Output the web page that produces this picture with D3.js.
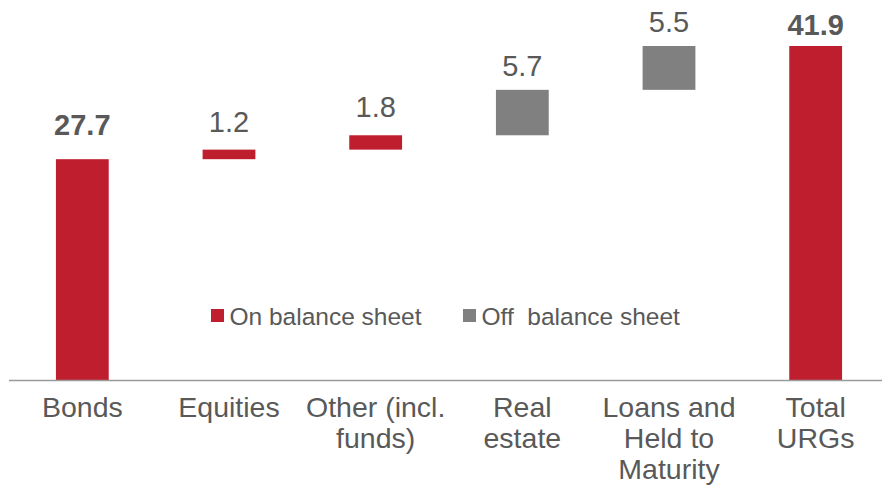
<!DOCTYPE html>
<html>
<head>
<meta charset="utf-8">
<script src="https://cdn.jsdelivr.net/npm/d3@7"></script>
<style>
	html, body { margin: 0; padding: 0; background: #fff; }
	svg { display: block; font-family: Arial, "Liberation Sans", sans-serif; }
</style>
</head>
<body>
<svg id="chart" width="882" height="489"></svg>
<script>
// Data
const categories = [["Bonds"], ["Equities"], ["Other (incl.", "funds)"], ["Real", "estate"], ["Loans and", "Held to", "Maturity"], ["Total", "URGs"]];
const values = [27.7, 1.2, 1.8, 5.7, 5.5, 41.9];
const kinds = ["total", "on", "on", "off", "off", "total"];
const legendLabels = ["On balance sheet", "Off  balance sheet"];

// Label gap above each bar (hand placed in the original)
const labelGaps = [24, 18, 18.5, 13.5, 14.5, 11];

const red = "#BE1E2D";
const grey = "#808080";
const textColor = "#595959";

const svg = d3.select("#chart");
const width = 882;
const baseline = 380;

let x = d3.scaleBand()
	.domain(d3.range(values.length))
	.range([9, 889])
	.paddingInner(0.64)
	.paddingOuter(0.32);

let y = d3.scaleLinear()
	.domain([0, 41.9])
	.range([baseline, 46]);

// Build waterfall steps
let running = 0;
let steps = values.map(function(v, i) {
	let start, end;
	if (kinds[i] === "total") {
		start = 0; end = v; running = v;
	} else {
		start = running; end = running + v; running = end;
	}
	return { i: i, value: v, start: start, end: end, kind: kinds[i] };
});

// Bars
svg.append("g").selectAll("rect")
	.data(steps)
	.enter()
	.append("rect")
	.attr("x", function(d) { return x(d.i); })
	.attr("width", x.bandwidth())
	.attr("y", function(d) { return y(d.end); })
	.attr("height", function(d) { return y(d.start) - y(d.end); })
	.attr("fill", function(d) { return d.kind === "off" ? grey : red; });

// Axis line
svg.append("line")
	.attr("x1", 9).attr("x2", width)
	.attr("y1", baseline + 0.5).attr("y2", baseline + 0.5)
	.attr("stroke", "#9a9a9a")
	.attr("stroke-width", 1.5);

// Value labels
svg.append("g").selectAll("text")
	.data(steps)
	.enter()
	.append("text")
	.attr("x", function(d) { return x(d.i) + x.bandwidth() / 2; })
	.attr("y", function(d) { return y(d.end) - labelGaps[d.i]; })
	.attr("text-anchor", "middle")
	.attr("fill", textColor)
	.attr("font-size", "29px")
	.attr("font-weight", function(d) { return d.kind === "total" ? "bold" : "normal"; })
	.text(function(d) { return d.value.toFixed(1); });

// Category labels
let cats = svg.append("g").selectAll("text")
	.data(categories)
	.enter()
	.append("text")
	.attr("text-anchor", "middle")
	.attr("fill", textColor)
	.attr("font-size", "28.5px")
	.attr("transform", function(d, i) { return "translate(" + (x(i) + x.bandwidth() / 2) + ",417)"; });

cats.selectAll("tspan")
	.data(function(d) { return d; })
	.enter()
	.append("tspan")
	.attr("x", 0)
	.attr("y", function(d, j) { return j * 31; })
	.text(function(d) { return d; });

// Legend
let legend = svg.append("g").attr("transform", "translate(211,325)");
let legendItems = legend.selectAll("g")
	.data(legendLabels)
	.enter()
	.append("g")
	.attr("transform", function(d, i) { return "translate(" + (i * 252) + ",0)"; });

legendItems.append("rect")
	.attr("x", 0)
	.attr("y", -16)
	.attr("width", 13)
	.attr("height", 13)
	.attr("fill", function(d, i) { return i === 0 ? red : grey; });

legendItems.append("text")
	.attr("x", 18.5)
	.attr("y", 0)
	.attr("fill", textColor)
	.attr("font-size", "24.5px")
	.attr("xml:space", "preserve")
	.style("white-space", "pre")
	.text(function(d) { return d; });
</script>
</body>
</html>
